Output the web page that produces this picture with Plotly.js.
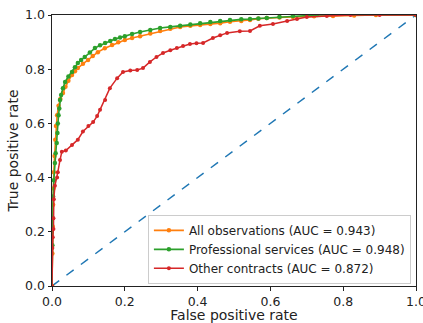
<!DOCTYPE html>
<html>
<head>
<meta charset="utf-8">
<script src="https://cdn.plot.ly/plotly-3.0.1.min.js"></script>
<style>html,body{margin:0;padding:0;background:#fff;overflow:hidden;}#chart{width:423px;height:323px;}</style>
</head>
<body>
<div id="chart"></div>
<script>
const seriesNames = ["All observations (AUC = 0.943)", "Professional services (AUC = 0.948)", "Other contracts (AUC = 0.872)"];

const allFpr = [0,0.001,0.002,0.003,0.004,0.005,0.007,0.009,0.011,0.014,0.018,0.023,0.03,0.037,0.045,0.055,0.063,0.071,0.085,0.099,0.112,0.126,0.145,0.165,0.182,0.2,0.22,0.242,0.27,0.297,0.325,0.352,0.38,0.407,0.435,0.462,0.489,0.52,0.544,0.567,0.59,0.625,0.662,0.72,0.772,0.83,0.89,1];
const allTpr = [0,0.12,0.22,0.30,0.36,0.42,0.48,0.54,0.59,0.63,0.665,0.69,0.712,0.735,0.757,0.779,0.792,0.804,0.82,0.834,0.849,0.863,0.877,0.889,0.899,0.908,0.915,0.922,0.932,0.941,0.949,0.956,0.96,0.963,0.967,0.97,0.975,0.978,0.982,0.986,0.989,0.991,0.993,0.995,0.996,0.998,1.0,1];

const proFpr = [0,0.001,0.002,0.003,0.005,0.008,0.01,0.013,0.015,0.016,0.018,0.02,0.022,0.025,0.03,0.036,0.045,0.055,0.063,0.071,0.08,0.09,0.104,0.118,0.132,0.146,0.16,0.173,0.187,0.2,0.22,0.242,0.27,0.297,0.325,0.352,0.38,0.407,0.435,0.462,0.489,0.52,0.544,0.567,0.59,0.625,0.662,0.728,1];
const proTpr = [0,0.15,0.25,0.33,0.39,0.454,0.49,0.528,0.565,0.60,0.63,0.655,0.686,0.705,0.73,0.753,0.773,0.79,0.807,0.823,0.834,0.845,0.862,0.878,0.888,0.897,0.904,0.911,0.917,0.922,0.93,0.937,0.945,0.952,0.956,0.96,0.965,0.97,0.974,0.978,0.982,0.984,0.985,0.987,0.989,0.993,0.996,1.0,1];

const othFpr = [0,0.001,0.002,0.004,0.004,0.005,0.008,0.014,0.016,0.022,0.027,0.038,0.055,0.071,0.085,0.1,0.113,0.124,0.132,0.146,0.159,0.179,0.195,0.215,0.234,0.25,0.269,0.287,0.305,0.325,0.343,0.36,0.379,0.397,0.415,0.442,0.462,0.481,0.516,0.544,0.571,0.607,0.646,0.673,0.70,0.755,0.82,0.9,1];
const othTpr = [0,0.14,0.18,0.21,0.25,0.32,0.37,0.40,0.42,0.465,0.495,0.50,0.52,0.54,0.57,0.59,0.605,0.627,0.65,0.686,0.73,0.767,0.79,0.795,0.797,0.804,0.827,0.845,0.86,0.87,0.878,0.886,0.893,0.896,0.897,0.915,0.925,0.934,0.94,0.941,0.96,0.967,0.978,0.985,0.993,0.996,1.0,1.0,1];

const chanceX = [0, 1];
const chanceY = [0, 1];

const traces = [
  {x: chanceX, y: chanceY, mode: 'lines', line: {color: '#1f77b4', width: 1.5, dash: 'dash'}, showlegend: false, hoverinfo: 'skip'},
  {x: allFpr, y: allTpr, name: seriesNames[0], mode: 'lines+markers', line: {color: '#ff7f0e', width: 1.6}, marker: {color: '#ff7f0e', size: 4.5}},
  {x: proFpr, y: proTpr, name: seriesNames[1], mode: 'lines+markers', line: {color: '#2ca02c', width: 1.6}, marker: {color: '#2ca02c', size: 4.5}},
  {x: othFpr, y: othTpr, name: seriesNames[2], mode: 'lines+markers', line: {color: '#d62728', width: 1.5}, marker: {color: '#d62728', size: 4}}
];

const axisCommon = {
  range: [0, 1], dtick: 0.2, tickformat: '.1f', showgrid: false, zeroline: false,
  showline: true, mirror: true, linecolor: '#222', linewidth: 1,
  ticks: 'outside', ticklen: 3.5, tickcolor: '#222', tickwidth: 1,
  ticklabeloverflow: 'allow',
  tickfont: {family: 'DejaVu Sans', size: 12.5, color: '#222'}
};

const layout = {
  width: 423, height: 323,
  margin: {l: 52, r: 7, t: 15, b: 37},
  paper_bgcolor: '#fff', plot_bgcolor: '#fff',
  font: {family: 'DejaVu Sans', color: '#222'},
  xaxis: Object.assign({}, axisCommon, {title: {text: 'False positive rate', font: {family: 'DejaVu Sans', size: 14, color: '#222'}, standoff: 5}}),
  yaxis: Object.assign({}, axisCommon, {title: {text: 'True positive rate', font: {family: 'DejaVu Sans', size: 14, color: '#222'}, standoff: 3}}),
  legend: {x: 0.986, y: 0.008, xanchor: 'right', yanchor: 'bottom', bgcolor: 'rgba(255,255,255,0.8)', bordercolor: '#ccc', borderwidth: 1, font: {family: 'DejaVu Sans', size: 12, color: '#222'}, itemwidth: 30, tracegroupgap: 0},
  showlegend: true
};

Plotly.newPlot('chart', traces, layout, {displayModeBar: false, staticPlot: true});
</script>
</body>
</html>
